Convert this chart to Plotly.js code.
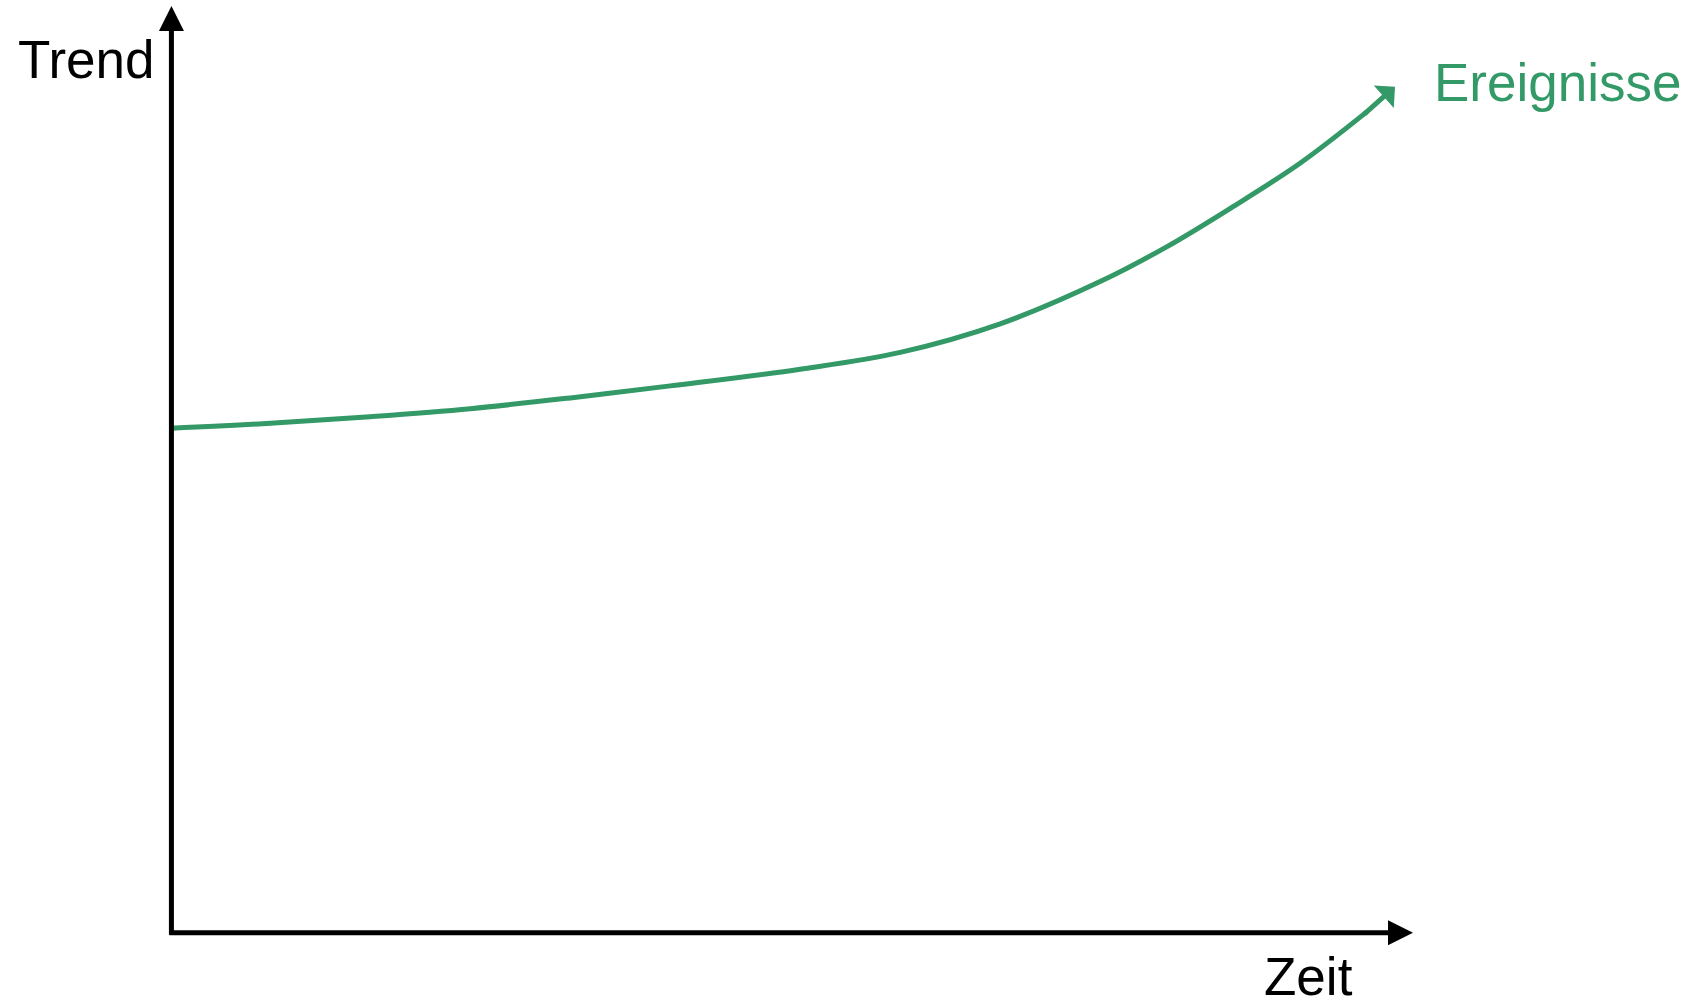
<!DOCTYPE html>
<html>
<head>
<meta charset="utf-8">
<script src="https://cdn.plot.ly/plotly-3.0.1.min.js"></script>
<style>html,body{margin:0;padding:0;background:#fff;}#chart{width:1697px;height:1002px;}</style>
</head>
<body>
<div id="chart"></div>
<script>
// Data (time vs. trend, arbitrary units 0–100)
const zeit  = [0, 7.97, 16.0, 24.07, 32.13, 40.18, 50.64, 58.70, 66.75, 74.8, 80.19, 85.5, 90.9, 96.3, 98.55];
const trend = [54.44, 54.98, 55.69, 56.55, 57.71, 59.01, 60.81, 62.62, 65.70, 70.26, 74.04, 78.35, 83.03, 88.6, 91.29];
const seriesName = "Ereignisse";
const xLabel = "Zeit";
const yLabel = "Trend";
const axisMax = 100;

const green = "#339966";
const fontFam = "Liberation Sans, Arial, sans-serif";
const n = zeit.length;

const trace = {
  x: zeit.slice(0, n - 1),
  y: trend.slice(0, n - 1),
  type: "scatter",
  mode: "lines",
  line: {color: green, width: 5, shape: "spline", smoothing: 1},
  hoverinfo: "skip",
  showlegend: false
};

// arrow tail overlaps the end of the curve slightly so no seam shows
const overlap = 0.12;
const tailX = zeit[n - 2] - overlap * (zeit[n - 1] - zeit[n - 2]);
const tailY = trend[n - 2] - overlap * (trend[n - 1] - trend[n - 2]);

const arrowBase = {xref: "x", yref: "y", axref: "x", ayref: "y", text: "", showarrow: true,
  standoff: 0, borderpad: 0, font: {size: 1}};

const layout = {
  width: 1697,
  height: 1002,
  margin: {l: 158.6, r: 284, t: 6, b: 59.7, pad: 0},
  paper_bgcolor: "#ffffff",
  plot_bgcolor: "#ffffff",
  showlegend: false,
  xaxis: {range: [-1, axisMax], showgrid: false, zeroline: false, showticklabels: false, ticks: "", showline: false, fixedrange: true},
  yaxis: {range: [-1, axisMax], showgrid: false, zeroline: false, showticklabels: false, ticks: "", showline: false, fixedrange: true},
  annotations: [
    // x axis arrow
    Object.assign({}, arrowBase, {x: axisMax, y: 0, ax: -0.2, ay: 0,
      arrowhead: 2, arrowsize: 1, arrowwidth: 5, arrowcolor: "#000"}),
    // y axis arrow
    Object.assign({}, arrowBase, {x: 0, y: axisMax, ax: 0, ay: -0.27,
      arrowhead: 2, arrowsize: 1, arrowwidth: 5, arrowcolor: "#000"}),
    // curve arrow head
    Object.assign({}, arrowBase, {x: zeit[n - 1], y: trend[n - 1], ax: tailX, ay: tailY,
      arrowhead: 1, arrowsize: 1, arrowwidth: 5, arrowcolor: green}),
    // labels
    {xref: "paper", yref: "paper", x: -0.0017, y: 0.943, xanchor: "right", yanchor: "middle",
     text: yLabel, showarrow: false, font: {family: fontFam, size: 53, color: "#000"}},
    {xref: "paper", yref: "paper", x: 0.9167, y: -0.0372, xanchor: "center", yanchor: "middle",
     text: xLabel, showarrow: false, font: {family: fontFam, size: 53, color: "#000"}},
    {xref: "paper", yref: "paper", x: 1.0155, y: 0.9188, xanchor: "left", yanchor: "middle",
     text: seriesName, showarrow: false, font: {family: fontFam, size: 53, color: green}}
  ]
};

Plotly.newPlot("chart", [trace], layout, {displayModeBar: false, staticPlot: true});
</script>
</body>
</html>
